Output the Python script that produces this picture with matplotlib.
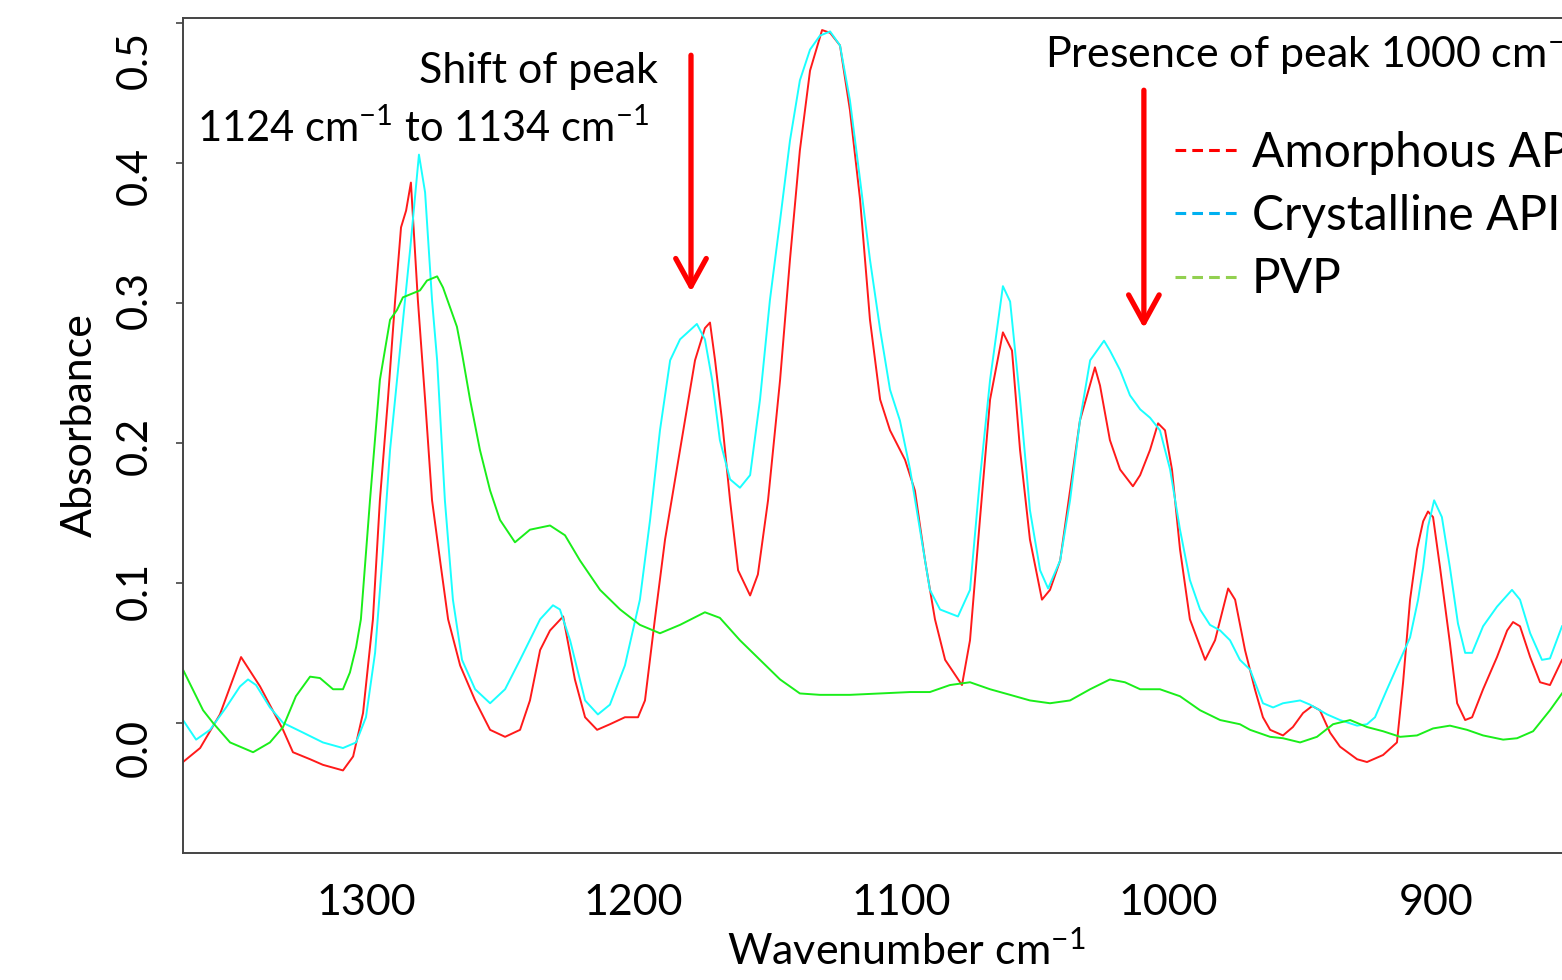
import matplotlib
matplotlib.use("Agg")
import matplotlib.pyplot as plt
import matplotlib.transforms as mtransforms
from matplotlib.lines import Line2D
from matplotlib.patches import FancyArrowPatch, ArrowStyle

plt.rcParams['font.family'] = ['Lato', 'DejaVu Sans']
plt.rcParams['mathtext.default'] = 'regular'

# ---------------- data ----------------
amorphous_wn = [1368.4, 1362.0, 1354.6, 1346.7, 1339.6, 1331.0, 1327.3, 1320.9, 1316.1, 1308.6,
                1304.8, 1301.1, 1297.4, 1294.8, 1291.8, 1289.1, 1286.9, 1285.0, 1283.2, 1280.6,
                1277.9, 1275.3, 1272.3, 1269.3, 1264.8, 1259.2, 1253.6, 1248.0, 1242.4, 1238.7,
                1234.9, 1231.2, 1226.3, 1221.9, 1218.1, 1213.6, 1208.8, 1203.2, 1198.3, 1195.7,
                1192.0, 1188.2, 1182.6, 1177.0, 1173.3, 1171.4, 1169.5, 1166.9, 1163.9, 1160.9,
                1156.4, 1153.5, 1149.7, 1145.2, 1141.5, 1137.8, 1134.0, 1129.5, 1126.5, 1122.8,
                1119.1, 1115.3, 1111.6, 1107.8, 1104.1, 1098.5, 1094.8, 1091.0, 1087.3, 1083.5,
                1077.2, 1074.2, 1070.5, 1066.7, 1061.9, 1058.5, 1055.5, 1051.8, 1047.3, 1044.3,
                1040.5, 1036.8, 1033.1, 1027.5, 1025.6, 1021.9, 1018.1, 1013.3, 1010.6, 1006.9,
                1003.9, 1001.3, 998.7, 995.7, 992.0, 986.3, 982.6, 977.7, 975.1, 971.4,
                967.7, 964.7, 962.0, 957.2, 953.5, 949.7, 946.3, 943.4, 939.6, 935.9,
                929.5, 925.8, 919.8, 914.6, 912.3, 909.7, 907.1, 904.8, 903.0, 901.1,
                898.5, 894.8, 892.1, 889.1, 886.5, 882.4, 877.2, 873.4, 871.2, 868.6,
                864.8, 861.1, 857.4, 852.9]
amorphous_abs = [-0.028, -0.018, 0.006, 0.047, 0.026, -0.005, -0.021, -0.026, -0.030, -0.034,
                 -0.024, 0.007, 0.074, 0.159, 0.231, 0.302, 0.354, 0.366, 0.386, 0.302,
                 0.231, 0.159, 0.116, 0.074, 0.041, 0.016, -0.005, -0.010, -0.005, 0.016,
                 0.052, 0.066, 0.076, 0.031, 0.004, -0.005, -0.001, 0.004, 0.004, 0.016,
                 0.074, 0.131, 0.195, 0.259, 0.282, 0.286, 0.259, 0.216, 0.159, 0.109,
                 0.091, 0.106, 0.159, 0.245, 0.331, 0.409, 0.466, 0.495, 0.493, 0.484,
                 0.438, 0.374, 0.288, 0.231, 0.209, 0.188, 0.166, 0.116, 0.074, 0.045,
                 0.027, 0.059, 0.145, 0.231, 0.279, 0.266, 0.195, 0.131, 0.088, 0.095,
                 0.116, 0.166, 0.216, 0.254, 0.241, 0.202, 0.181, 0.169, 0.177, 0.195,
                 0.214, 0.209, 0.181, 0.124, 0.074, 0.045, 0.059, 0.096, 0.088, 0.052,
                 0.024, 0.004, -0.005, -0.009, -0.003, 0.007, 0.012, 0.009, -0.007, -0.017,
                 -0.026, -0.028, -0.023, -0.014, 0.029, 0.088, 0.124, 0.144, 0.151, 0.147,
                 0.111, 0.057, 0.014, 0.002, 0.004, 0.024, 0.047, 0.066, 0.072, 0.069,
                 0.047, 0.029, 0.027, 0.045]

crystalline_wn = [1368.4, 1363.5, 1358.3, 1352.3, 1347.1, 1344.1, 1341.1, 1335.9, 1331.0, 1323.5,
                  1316.1, 1308.6, 1303.7, 1300.0, 1296.6, 1293.6, 1291.0, 1287.3, 1283.5, 1280.2,
                  1277.9, 1275.3, 1273.4, 1270.5, 1267.5, 1264.1, 1259.2, 1253.6, 1248.0, 1242.4,
                  1234.9, 1230.1, 1227.5, 1223.7, 1218.1, 1213.3, 1208.8, 1203.2, 1197.6, 1193.8,
                  1190.1, 1186.3, 1182.6, 1176.3, 1173.3, 1170.6, 1167.7, 1163.9, 1160.2, 1156.4,
                  1152.7, 1149.0, 1145.2, 1141.5, 1137.8, 1134.0, 1130.3, 1126.5, 1122.8, 1119.1,
                  1115.3, 1111.6, 1107.8, 1104.1, 1100.4, 1096.6, 1092.9, 1089.2, 1085.4, 1078.7,
                  1074.2, 1070.5, 1066.7, 1061.9, 1059.2, 1055.5, 1051.8, 1048.0, 1045.0, 1040.5,
                  1036.8, 1033.1, 1029.3, 1024.1, 1021.9, 1018.1, 1014.4, 1010.6, 1006.9, 1003.2,
                  999.4, 995.7, 992.0, 988.2, 984.5, 980.7, 977.0, 973.3, 969.5, 964.7,
                  960.9, 957.2, 950.8, 947.1, 940.7, 935.9, 929.5, 925.8, 922.8, 918.3,
                  913.4, 909.7, 906.7, 904.8, 903.0, 900.7, 897.8, 894.8, 891.8, 889.1,
                  886.5, 882.4, 877.2, 871.6, 868.6, 864.8, 860.4, 857.4, 852.9]
crystalline_abs = [0.002, -0.012, -0.005, 0.011, 0.026, 0.031, 0.027, 0.011, 0.000, -0.007,
                   -0.014, -0.018, -0.014, 0.004, 0.050, 0.124, 0.195, 0.266, 0.338, 0.406,
                   0.379, 0.302, 0.259, 0.159, 0.088, 0.045, 0.024, 0.014, 0.024, 0.045,
                   0.074, 0.084, 0.081, 0.059, 0.016, 0.006, 0.013, 0.041, 0.088, 0.145,
                   0.209, 0.259, 0.274, 0.285, 0.274, 0.245, 0.202, 0.174, 0.168, 0.177,
                   0.231, 0.302, 0.359, 0.416, 0.459, 0.481, 0.491, 0.494, 0.484, 0.445,
                   0.388, 0.331, 0.281, 0.238, 0.216, 0.181, 0.138, 0.095, 0.081, 0.076,
                   0.095, 0.174, 0.245, 0.312, 0.301, 0.231, 0.152, 0.109, 0.096, 0.116,
                   0.159, 0.216, 0.259, 0.273, 0.266, 0.252, 0.234, 0.224, 0.218, 0.209,
                   0.181, 0.138, 0.102, 0.081, 0.070, 0.066, 0.059, 0.045, 0.038, 0.014,
                   0.011, 0.014, 0.016, 0.013, 0.006, 0.002, -0.002, -0.001, 0.004, 0.024,
                   0.045, 0.061, 0.088, 0.111, 0.140, 0.159, 0.147, 0.111, 0.071, 0.050,
                   0.050, 0.069, 0.083, 0.095, 0.088, 0.064, 0.045, 0.046, 0.069]

pvp_wn = [1368.4, 1360.9, 1357.2, 1350.8, 1342.2, 1335.9, 1331.0, 1326.2, 1320.9, 1317.2,
          1312.3, 1308.6, 1306.0, 1303.7, 1301.9, 1298.5, 1294.8, 1291.0, 1288.4, 1286.2,
          1279.8, 1277.2, 1273.4, 1271.2, 1268.6, 1266.0, 1264.1, 1261.1, 1257.4, 1253.6,
          1249.9, 1244.3, 1238.7, 1231.2, 1225.6, 1220.0, 1212.5, 1205.0, 1197.6, 1190.1,
          1182.6, 1173.3, 1167.7, 1160.2, 1152.7, 1145.2, 1137.8, 1130.3, 1119.1, 1107.8,
          1096.6, 1089.2, 1081.7, 1074.2, 1066.7, 1059.2, 1051.8, 1044.3, 1036.8, 1029.3,
          1021.9, 1016.3, 1010.6, 1003.2, 995.7, 988.2, 980.7, 973.3, 969.5, 962.0,
          957.2, 950.8, 944.5, 938.5, 932.1, 925.8, 919.8, 913.4, 907.1, 901.1,
          894.8, 888.4, 882.4, 874.9, 869.7, 863.7, 857.4, 852.9]
pvp_abs = [0.038, 0.009, 0.000, -0.014, -0.021, -0.014, -0.003, 0.019, 0.033, 0.032,
           0.024, 0.024, 0.036, 0.054, 0.074, 0.159, 0.245, 0.288, 0.295, 0.304,
           0.309, 0.316, 0.319, 0.311, 0.297, 0.283, 0.264, 0.231, 0.195, 0.166,
           0.145, 0.129, 0.138, 0.141, 0.134, 0.116, 0.095, 0.081, 0.070, 0.064,
           0.070, 0.079, 0.075, 0.059, 0.045, 0.031, 0.021, 0.020, 0.020, 0.021,
           0.022, 0.022, 0.027, 0.029, 0.024, 0.020, 0.016, 0.014, 0.016, 0.024,
           0.031, 0.029, 0.024, 0.024, 0.019, 0.009, 0.002, -0.001, -0.005, -0.010,
           -0.011, -0.014, -0.010, -0.001, 0.002, -0.003, -0.006, -0.010, -0.009, -0.004,
           -0.002, -0.005, -0.009, -0.012, -0.011, -0.006, 0.009, 0.021]

x_ticks = [1300, 1200, 1100, 1000, 900]
y_ticks = [0.0, 0.1, 0.2, 0.3, 0.4, 0.5]
legend_labels = ['Amorphous API', 'Crystalline API', 'PVP']

# ---------------- figure ----------------
W, H = 1562, 980
fig = plt.figure(figsize=(W / 100, H / 100), dpi=100)
ax = fig.add_axes([183 / W, 1 - 853 / H, 1 - 183 / W, (853 - 18) / H])

ax.plot(amorphous_wn, amorphous_abs, color='#ff1a1a', lw=1.4)
ax.plot(crystalline_wn, crystalline_abs, color='#1affff', lw=1.4)
ax.plot(pvp_wn, pvp_abs, color='#1aee1a', lw=1.4)

ax.set_xlim(1368.4, 852.9)
ax.set_ylim(-0.093, 0.5036)
ax.set_xticks(x_ticks)
ax.set_xticklabels([str(t) for t in x_ticks])
ax.set_yticks(y_ticks)
ax.set_yticklabels([])

for s in ['left', 'top', 'bottom']:
    ax.spines[s].set_color('#444444')
    ax.spines[s].set_linewidth(1.4)
ax.spines['right'].set_visible(False)
ax.tick_params(axis='y', direction='out', length=5, width=1.2, color='#444444')
ax.tick_params(axis='x', length=0, labelsize=31, pad=22)

# rotated y tick labels (shifted slightly as in the reference)
ylab_shift_px = [25, 8, 3, -3, 13, 37]
ytrans = mtransforms.blended_transform_factory(fig.transFigure, ax.transData)
for t, sh in zip(y_ticks, ylab_shift_px):
    off = mtransforms.ScaledTranslation(0, -sh / 100, fig.dpi_scale_trans)
    ax.text(135 / W, t, '%.1f' % t, rotation=90, ha='center', va='center',
            fontsize=30, transform=ytrans + off, clip_on=False)

# axis labels
fig.text(80 / W, 1 - 425 / H, 'Absorbance', rotation=90, ha='center', va='center', fontsize=31)
fig.text(906 / W, 1 - 965 / H, r'Wavenumber cm$^{-1}$', ha='center', va='baseline', fontsize=31)

# annotations
fig.text(658 / W, 1 - 83 / H, 'Shift of peak', ha='right', va='baseline', fontsize=31)
fig.text(197 / W, 1 - 142 / H, r'1124 cm$^{-1}$ to 1134 cm$^{-1}$', ha='left', va='baseline', fontsize=30)
fig.text(1045 / W, 1 - 68 / H, r'Presence of peak 1000 cm$^{-1}$', ha='left', va='baseline', fontsize=31)

for x0, ytop, ytip in [(1178.5, 0.477, 0.308), (1009.2, 0.452, 0.282)]:
    arr = FancyArrowPatch((x0, ytop), (x0, ytip),
                          arrowstyle=ArrowStyle('->', head_length=20, head_width=11),
                          mutation_scale=1, lw=3.8, color='red', shrinkA=0, shrinkB=0,
                          joinstyle='round', capstyle='round')
    ax.add_patch(arr)

# legend
handles = [Line2D([], [], color=c, lw=2.2, linestyle=(0, (3.5, 2)))
           for c in ['#ff0000', '#00b0f0', '#92d050']]
leg = ax.legend(handles, legend_labels, loc='upper left',
                bbox_to_anchor=(1175 / W, 1 - 131 / H), bbox_transform=fig.transFigure,
                frameon=False, fontsize=34.5, handlelength=1.29, handletextpad=0.31,
                labelspacing=0.4, borderpad=0, borderaxespad=0)

fig.savefig('out.png', dpi=100)
